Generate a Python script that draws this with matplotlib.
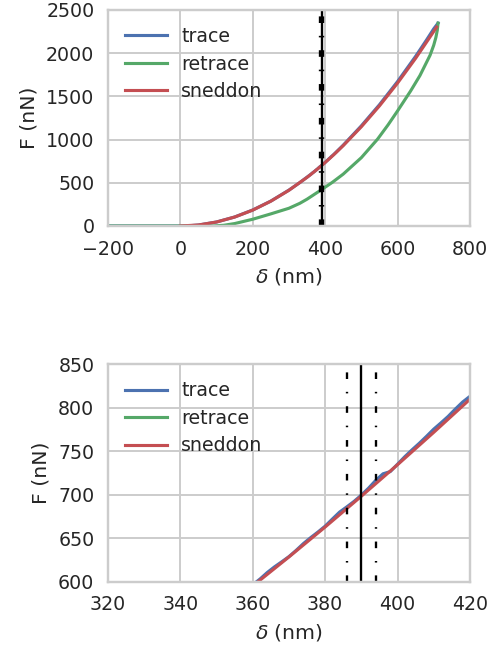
import numpy as np
import matplotlib
matplotlib.use("Agg")
import matplotlib.pyplot as plt

# indentation (nm) and force (nN)
trace_d = [-200, -150, -100, -50, 0, 25, 50, 100, 150, 200, 250, 300, 330, 350,
           356, 358, 360, 362, 364, 366, 368, 370, 372, 374, 376, 378, 380, 382,
           384, 386, 388, 390, 392, 394, 396, 398, 400, 402, 404, 406, 408, 410,
           412, 414, 416, 418, 420, 422, 424,
           450, 500, 550, 600, 650, 680, 700, 712]
trace_f = [0, 0, 0, 0, 0, 3, 11, 46, 104, 185, 288, 415, 502, 565,
           583.5, 590.0, 596.5, 603.0, 610.5, 617.0, 622.8, 628.8, 636.0, 643.8,
           650.6, 657.0, 663.8, 672.0, 680.0, 686.0, 692.3, 699.5, 707.5, 716.5,
           724.0, 726.5, 735.0, 743.6, 751.5, 759.0, 767.0, 775.3, 782.5, 790.0,
           798.5, 806.5, 813.0, 820.5, 828.0,
           935, 1158, 1402, 1670, 1962, 2150, 2280, 2346]

retrace_d = [712, 710, 706, 700, 690, 662, 636, 600, 574, 545, 500, 450, 420,
             390, 350, 330, 300, 250, 200, 150, 120, 90, 0, -100, -200]
retrace_f = [2346, 2265, 2180, 2090, 1975, 1740, 1560, 1330, 1170, 1005, 790,
             600, 505, 420, 310, 262, 205, 140, 78, 28, 8, 0, 0, 0, 0]

sneddon_d = [0, 50, 100, 150, 200, 250, 300, 350, 360, 370, 380, 390, 400, 410,
             420, 430, 450, 500, 550, 600, 650, 700, 708]
sneddon_f = [0, 11.5, 46, 103.3, 183.6, 286.9, 413.1, 562.3, 595.0, 628.4,
             662.8, 698.2, 734.4, 771.6, 809.6, 848.7, 929.5, 1147.5, 1388.5,
             1652.4, 1939.3, 2249.1, 2300.9]

d_center = 390
d_low, d_high = 386, 394

blue, green, red = "#4C72B0", "#55A868", "#C44E52"

plt.rcParams.update({
    "font.family": "DejaVu Sans",
    "axes.edgecolor": "0.8",
    "axes.linewidth": 1.25,
    "grid.color": "0.8",
    "grid.linewidth": 1.0,
    "text.color": "0.15",
    "axes.labelcolor": "0.15",
    "xtick.color": "0.15",
    "ytick.color": "0.15",
    "xtick.major.size": 0,
    "ytick.major.size": 0,
    "xtick.major.pad": 7,
    "ytick.major.pad": 7,
    "xtick.labelsize": 9.8,
    "ytick.labelsize": 9.8,
    "axes.labelsize": 10.5,
    "legend.fontsize": 9.8,
    "lines.scale_dashes": False,
})

fig = plt.figure(figsize=(491 / 140, 655 / 140), dpi=140)
ax1 = fig.add_axes([0.220, 0.655, 0.737, 0.330])
ax2 = fig.add_axes([0.220, 0.112, 0.737, 0.332])

for ax in (ax1, ax2):
    ax.grid(True)
    ax.set_axisbelow(True)
    ax.plot(trace_d, trace_f, color=blue, lw=1.6, label="trace")
    ax.plot(retrace_d, retrace_f, color=green, lw=1.6, label="retrace")
    ax.plot(sneddon_d, sneddon_f, color=red, lw=1.6, label="sneddon")
    ax.axvline(d_center, color="k", lw=1.2)
    ax.axvline(d_low, color="k", lw=1.2, ls="-.", dashes=(3.4, 6.6, 0.8, 6.6))
    ax.axvline(d_high, color="k", lw=1.2, ls="-.", dashes=(3.4, 6.6, 0.8, 6.6))
    ax.set_xlabel(r"$\delta$ (nm)")
    ax.set_ylabel("F (nN)")
    ax.legend(loc="upper left", frameon=False, handlelength=2.2,
              handletextpad=0.75, labelspacing=0.45)

ax1.set_xlim(-200, 800)
ax1.set_ylim(0, 2500)
ax1.set_xticks(np.arange(-200, 801, 200))
ax1.set_yticks(np.arange(0, 2501, 500))

ax2.set_xlim(320, 420)
ax2.set_ylim(600, 850)
ax2.set_xticks(np.arange(320, 421, 20))
ax2.set_yticks(np.arange(600, 851, 50))

fig.savefig("out.png", dpi=140)
